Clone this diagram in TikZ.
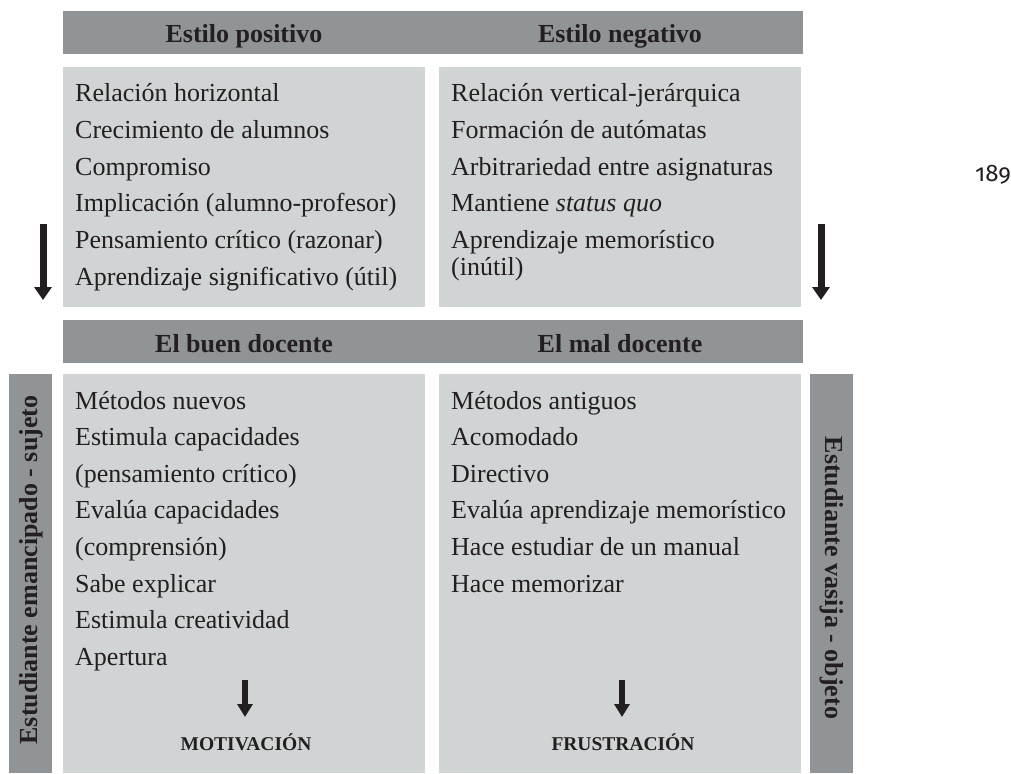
\documentclass[tikz,border=0pt]{standalone}
\usepackage{fontspec}
\setmainfont{Liberation Serif}
\newfontfamily\pagefont[Numbers=OldStyle]{Fira Sans}
\usetikzlibrary{arrows.meta}
\definecolor{hdrgray}{HTML}{909497}
\definecolor{boxgray}{HTML}{D1D4D5}
\definecolor{ink}{HTML}{231F20}
\tikzset{
  hdrbox/.style={fill=hdrgray, draw=none, inner sep=0pt, anchor=north west},
  lightbox/.style={fill=boxgray, draw=none, inner sep=0pt, anchor=north west},
  item/.style={anchor=base west, inner sep=0pt, text=ink, font=\fontsize{26}{31}\selectfont},
  hdrtext/.style={anchor=base, inner sep=0pt, text=ink, font=\fontsize{26}{31}\selectfont\bfseries},
  sidetext/.style={anchor=center, inner sep=0pt, text=ink, font=\fontsize{26}{31}\selectfont\bfseries},
  captext/.style={anchor=base, inner sep=0pt, text=ink, font=\fontsize{19.5}{24}\selectfont\bfseries},
  bigarrow/.style={draw=ink, line width=7pt, -{Triangle[length=13pt 0 0, width=17pt 0 0]}, ink},
  smallarrow/.style={draw=ink, line width=6pt, -{Triangle[length=13pt 0 0, width=15pt 0 0]}, ink}
}
\begin{document}
\begin{tikzpicture}[x=1pt,y=-1pt]
\useasboundingbox (0,0) rectangle (1011,773);
% header bars
\node[hdrbox, minimum width=740pt, minimum height=43pt] (h1) at (63,11) {};
\node[hdrbox, minimum width=740pt, minimum height=43pt] (h2) at (63,320) {};
% top boxes
\node[lightbox, minimum width=362pt, minimum height=240pt] (tl) at (63,67) {};
\node[lightbox, minimum width=362pt, minimum height=240pt] (tr) at (439,67) {};
% bottom boxes
\node[lightbox, minimum width=362pt, minimum height=399pt] (bl) at (63,374) {};
\node[lightbox, minimum width=362pt, minimum height=399pt] (br) at (439,374) {};
% side bars
\node[hdrbox, minimum width=43pt, minimum height=399pt] (sl) at (9,374) {};
\node[hdrbox, minimum width=43pt, minimum height=399pt] (sr) at (810,374) {};

% header texts
\node[hdrtext] (t1) at (244,43) {Estilo positivo};
\node[hdrtext] (t2) at (620,43) {Estilo negativo};
\node[hdrtext] (t3) at (244,352) {El buen docente};
\node[hdrtext] (t4) at (620,352) {El mal docente};

% top left items
\node[item] (p1) at (75,101.7) {Relación horizontal};
\node[item] (p2) at (75,138.4) {Crecimiento de alumnos};
\node[item] (p3) at (75,175.1) {Compromiso};
\node[item] (p4) at (75,211.8) {Implicación (alumno-profesor)};
\node[item] (p5) at (75,248.5) {Pensamiento crítico (razonar)};
\node[item] (p6) at (75,285.2) {Aprendizaje significativo (útil)};

% top right items
\node[item] (n1) at (451,101.7) {Relación vertical-jerárquica};
\node[item] (n2) at (451,138.4) {Formación de autómatas};
\node[item] (n3) at (451,175.1) {Arbitrariedad entre asignaturas};
\node[item] (n4) at (451,211.8) {Mantiene \textit{status quo}};
\node[item] (n5) at (451,248.5) {Aprendizaje memorístico};
\node[item] (n6) at (451,275.5) {(inútil)};

% bottom left items
\node[item] (b1) at (75,409) {Métodos nuevos};
\node[item] (b2) at (75,445.6) {Estimula capacidades};
\node[item] (b3) at (75,482.2) {(pensamiento crítico)};
\node[item] (b4) at (75,518.8) {Evalúa capacidades};
\node[item] (b5) at (75,555.4) {(comprensión)};
\node[item] (b6) at (75,592) {Sabe explicar};
\node[item] (b7) at (75,628.6) {Estimula creatividad};
\node[item] (b8) at (75,665.2) {Apertura};

% bottom right items
\node[item] (m1) at (451,409) {Métodos antiguos};
\node[item] (m2) at (451,445.6) {Acomodado};
\node[item] (m3) at (451,482.2) {Directivo};
\node[item] (m4) at (451,518.8) {Evalúa aprendizaje memorístico};
\node[item] (m5) at (451,555.4) {Hace estudiar de un manual};
\node[item] (m6) at (451,592) {Hace memorizar};

% conclusions
\node[captext] (c1) at (246,750) {MOTIVACIÓN};
\node[captext] (c2) at (623,750) {FRUSTRACIÓN};

% side labels
\node[sidetext, rotate=90] (s1) at (31,570) {Estudiante emancipado - sujeto};
\node[sidetext, rotate=-90] (s2) at (832,578) {Estudiante vasija - objeto};

% page number
\node[anchor=base west, inner sep=0pt, text=ink, font=\pagefont\fontsize{24}{28}\selectfont] (pg) at (975,181) {189};

% arrows
\coordinate (la1) at (43,224);
\coordinate (la2) at (43,300);
\coordinate (ra1) at (821,224);
\coordinate (ra2) at (821,300);
\coordinate (ma1) at (245,680);
\coordinate (ma2) at (245,717);
\coordinate (fa1) at (622,680);
\coordinate (fa2) at (622,717);
\draw[bigarrow] (la1) -- (la2);
\draw[bigarrow] (ra1) -- (ra2);
\draw[smallarrow] (ma1) -- (ma2);
\draw[smallarrow] (fa1) -- (fa2);
\end{tikzpicture}
\end{document}
